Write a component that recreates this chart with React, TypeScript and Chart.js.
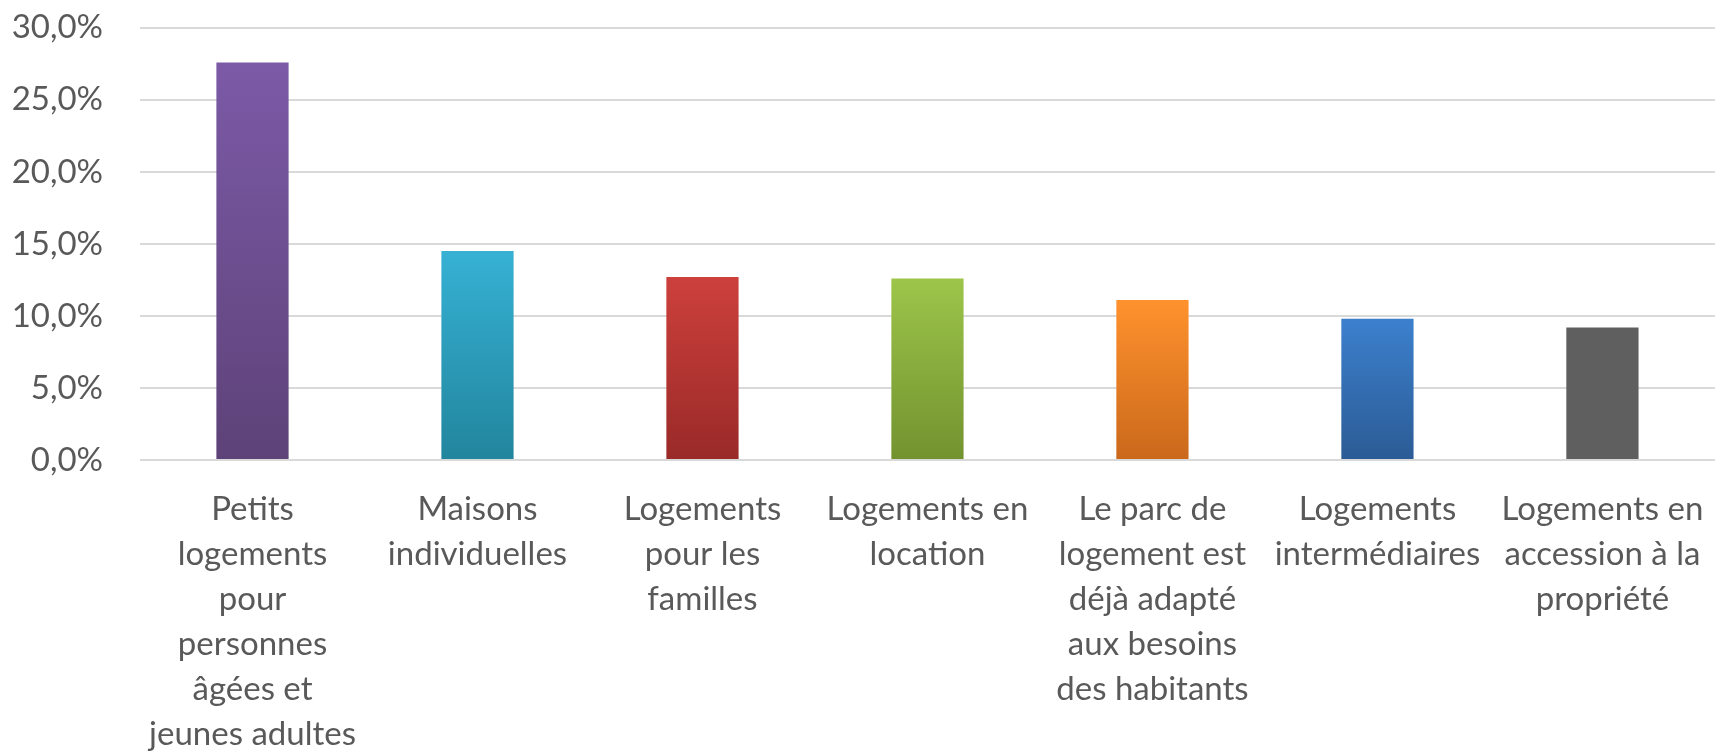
import React, { useEffect, useRef } from "react";
import { Chart, registerables } from "chart.js";

Chart.register(...registerables);

const categories: string[][] = [
  ["Petits", "logements", "pour", "personnes", "âgées et", "jeunes adultes"],
  ["Maisons", "individuelles"],
  ["Logements", "pour les", "familles"],
  ["Logements en", "location"],
  ["Le parc de", "logement est", "déjà adapté", "aux besoins", "des habitants"],
  ["Logements", "intermédiaires"],
  ["Logements en", "accession à la", "propriété"],
];

const values: number[] = [27.6, 14.5, 12.7, 12.6, 11.1, 9.8, 9.2];

const topColors: string[] = ["#7C5AA7", "#36B1D4", "#CD403C", "#9DC54A", "#FF922D", "#3C80CD", "#5F5F5F"];
const bottomColors: string[] = ["#5D4278", "#22859D", "#992A28", "#72922F", "#CA681B", "#2B5B95", "#5F5F5F"];

const yTicks: number[] = [0, 5, 10, 15, 20, 25, 30];

const FONT = "Lato, 'Open Sans', 'Liberation Sans', sans-serif";
const TEXT = "#595959";

export default function App() {
  const ref = useRef<HTMLCanvasElement | null>(null);

  useEffect(() => {
    if (!ref.current) return;
    const chart = new Chart(ref.current, {
      type: "bar",
      data: {
        labels: categories,
        datasets: [
          {
            data: values,
            backgroundColor: (ctx: any) => {
              const chart = ctx.chart;
              const i = ctx.dataIndex;
              const { chartArea, scales } = chart;
              if (!chartArea || !scales.y || i === undefined) return topColors[i ?? 0];
              const yTop = scales.y.getPixelForValue(values[i]);
              const yBot = scales.y.getPixelForValue(0);
              if (!isFinite(yTop) || !isFinite(yBot) || yTop === yBot) return topColors[i];
              const g = chart.ctx.createLinearGradient(0, yTop, 0, yBot);
              g.addColorStop(0, topColors[i]);
              g.addColorStop(1, bottomColors[i]);
              return g;
            },
            borderWidth: 0,
            categoryPercentage: 1,
            barPercentage: 0.321,
          },
        ],
      },
      options: {
        animation: false,
        responsive: true,
        maintainAspectRatio: false,
        layout: { padding: { left: 0, right: 9, top: 0, bottom: 0 } },
        plugins: {
          legend: { display: false },
          tooltip: { enabled: false },
          title: { display: false },
        },
        scales: {
          x: {
            grid: { display: false, drawTicks: false },
            border: { display: false },
            ticks: {
              color: TEXT,
              font: { family: FONT, size: 33, lineHeight: 1.364 },
              padding: 27,
              maxRotation: 0,
              minRotation: 0,
              autoSkip: false,
            },
            afterFit: (scale: any) => {
              scale.height = 294;
            },
          },
          y: {
            min: 0,
            max: 30,
            afterBuildTicks: (scale: any) => {
              scale.ticks = yTicks.map((v) => ({ value: v }));
            },
            grid: { color: "#d9d9d9", lineWidth: 2, drawTicks: false },
            border: { display: false },
            ticks: {
              color: TEXT,
              font: { family: FONT, size: 33 },
              padding: 37,
              callback: (v: any) => `${Number(v).toFixed(1).replace(".", ",")}%`,
            },
            afterFit: (scale: any) => {
              scale.width = 140;
            },
          },
        },
      },
    });
    return () => chart.destroy();
  }, []);

  return (
    <div style={{ position: "fixed", left: 0, top: 0, width: 1731, height: 754, background: "#fff", overflow: "hidden" }}>
      <div style={{ position: "absolute", left: 0, top: -29, width: 1731, height: 783 }}>
        <canvas ref={ref} />
      </div>
    </div>
  );
}
